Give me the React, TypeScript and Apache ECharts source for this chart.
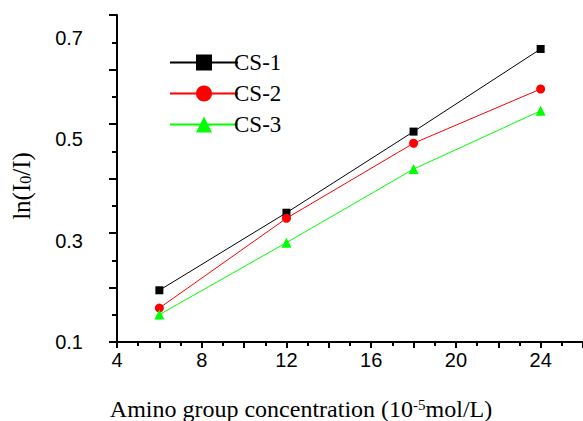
import React, { useEffect, useRef } from "react";
import * as echarts from "echarts";

// Data
const concentrations = [6, 12, 18, 24];
const cs1 = [0.202, 0.355, 0.515, 0.678];
const cs2 = [0.167, 0.344, 0.492, 0.599];
const cs3 = [0.154, 0.296, 0.441, 0.556];
const seriesNames = ["CS-1", "CS-2", "CS-3"];
const xLabelValues = [4, 8, 12, 16, 20, 24];
const yLabelValues = [0.1, 0.3, 0.5, 0.7];

const Y_MIN = 0.1;
const Y_MAX = 0.745;
const Y_TICK_PARTS = 12;

const yStep = (Y_MAX - Y_MIN) / Y_TICK_PARTS;
const yLongTicks: number[] = [];
const yShortTicks: number[] = [];
for (let k = 0; k <= Y_TICK_PARTS; k++) {
  const v = +(Y_MIN + k * yStep).toFixed(5);
  if (k % 2 === 0) yLongTicks.push(v);
  else yShortTicks.push(v);
}

const SERIF = '"Liberation Serif", "Times New Roman", serif';
const SANS = '"Liberation Sans", Arial, sans-serif';

export default function App() {
  const ref = useRef<HTMLDivElement>(null);
  useEffect(() => {
    if (!ref.current) return;
    const chart = echarts.init(ref.current, undefined, { renderer: "svg" });
    const mk = (arr: number[]) => concentrations.map((x, i) => [x, arr[i]]);
    chart.setOption({
      animation: false,
      backgroundColor: "#ffffff",
      grid: { left: 117, top: 15, width: 469, height: 327 },
      legend: {
        orient: "vertical",
        left: 164,
        top: 46,
        itemWidth: 68,
        itemHeight: 20,
        itemGap: 8,
        data: seriesNames,
        textStyle: {
          fontFamily: SERIF,
          fontSize: 23,
          color: "#000",
          lineHeight: 22,
          padding: [0, 0, 0, -9],
        },
      },
      xAxis: {
        type: "value",
        min: 4,
        max: 26,
        interval: 2,
        axisLine: { show: true, lineStyle: { color: "#000", width: 2 } },
        axisTick: { show: true, length: 6, lineStyle: { color: "#000", width: 2 } },
        minorTick: { show: true, splitNumber: 2, length: 4, lineStyle: { color: "#000", width: 2 } },
        splitLine: { show: false },
        axisLabel: {
          customValues: xLabelValues,
          fontFamily: SANS,
          fontSize: 20,
          color: "#000",
          margin: 8,
        },
      },
      yAxis: [
        {
          type: "value",
          min: Y_MIN,
          max: Y_MAX,
          axisLine: { show: true, lineStyle: { color: "#000", width: 2 } },
          axisTick: {
            show: true,
            customValues: yLongTicks,
            length: 8,
            lineStyle: { color: "#000", width: 2 },
          },
          splitLine: { show: false },
          axisLabel: {
            customValues: yLabelValues,
            formatter: (v: number) => v.toFixed(1),
            fontFamily: SANS,
            fontSize: 20,
            color: "#000",
            margin: 34,
          },
        },
        {
          type: "value",
          position: "left",
          min: Y_MIN,
          max: Y_MAX,
          axisLine: { show: false },
          axisTick: {
            show: true,
            customValues: yShortTicks,
            length: 5,
            lineStyle: { color: "#000", width: 2 },
          },
          splitLine: { show: false },
          axisLabel: { show: false },
        },
      ],
      graphic: [
        {
          type: "text",
          x: 21,
          y: 186,
          rotation: Math.PI / 2,
          style: {
            text: "ln(I{sub|0}/I)",
            fontFamily: SERIF,
            fontSize: 25,
            fill: "#000",
            align: "center",
            verticalAlign: "middle",
            rich: {
              sub: { fontFamily: SERIF, fontSize: 16, verticalAlign: "bottom", lineHeight: 15 },
            },
          },
        },
        {
          type: "text",
          x: 301,
          y: 409,
          style: {
            text: "Amino group concentration (10{sup|-5}mol/L)",
            fontFamily: SERIF,
            fontSize: 24,
            fill: "#000",
            align: "center",
            verticalAlign: "middle",
            rich: {
              sup: { fontFamily: SERIF, fontSize: 15, verticalAlign: "top", lineHeight: 15 },
            },
          },
        },
      ],
      series: [
        {
          name: seriesNames[0],
          type: "line",
          data: mk(cs1),
          symbol: "rect",
          symbolSize: 8,
          color: "#000000",
          lineStyle: { width: 1, color: "#000000" },
          itemStyle: { color: "#000000" },
        },
        {
          name: seriesNames[1],
          type: "line",
          data: mk(cs2),
          symbol: "circle",
          symbolSize: 9,
          color: "#ff0000",
          lineStyle: { width: 1, color: "#ff0000" },
          itemStyle: { color: "#ff0000" },
        },
        {
          name: seriesNames[2],
          type: "line",
          data: mk(cs3),
          symbol: "triangle",
          symbolSize: 10,
          color: "#00ff00",
          lineStyle: { width: 1, color: "#00ff00" },
          itemStyle: { color: "#00ff00" },
        },
      ],
    });
    return () => chart.dispose();
  }, []);
  return (
    <div
      ref={ref}
      style={{ position: "absolute", left: 0, top: 0, width: 583, height: 421, background: "#fff" }}
    />
  );
}
